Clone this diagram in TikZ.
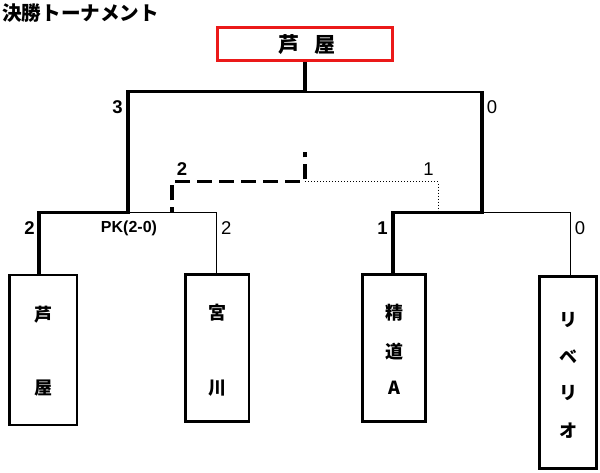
\documentclass[tikz,border=0pt]{standalone}
\usepackage{fontspec}
\newfontfamily\cjk{Noto Sans CJK JP}
\newfontfamily\latf{Liberation Sans}
\usetikzlibrary{calc}
\definecolor{champred}{RGB}{235,25,25}
\begin{document}
\begin{tikzpicture}[x=1pt,y=-1pt,
  boldline/.style={line width=3.2pt,line join=miter},
  thinline/.style={line width=1pt},
  midline/.style={line width=2pt},
  dashline/.style={line width=3.5pt,dash pattern=on 15pt off 7pt,dash phase=10pt},
  dotline/.style={line width=1pt,dash pattern=on 1pt off 2pt},
  teambox/.style={draw,line width=2.6pt,inner sep=0pt},
  champbox/.style={draw=champred,line width=3.2pt,inner sep=0pt,minimum width=175.6pt,minimum height=33.3pt,font=\cjk\bfseries\fontsize{21}{21}\selectfont},
  teamtxt/.style={font=\cjk\bfseries\fontsize{18}{18}\selectfont,inner sep=0pt},
  titletxt/.style={font=\cjk\bfseries\fontsize{19.6}{19.6}\selectfont,inner sep=0pt},
  winscore/.style={font=\latf\bfseries\fontsize{18.5}{18.5}\selectfont,inner sep=0pt,anchor=base},
  losescore/.style={font=\latf\fontsize{18.5}{18.5}\selectfont,inner sep=0pt,anchor=base},
  pktxt/.style={font=\latf\bfseries\fontsize{16}{16}\selectfont,inner sep=0pt,anchor=base}]
\useasboundingbox (0,0) rectangle (600,472);
\fill[white] (0,0) rectangle (600,472);

% title
\node[titletxt,anchor=base west] (title) at (2,20.5) {決勝トーナメント};

% champion box
\node[champbox] (champ) at (305,44.2) {\hspace*{4pt}芦\hspace{16pt}屋};

% team boxes
\node[teambox,minimum width=67.5pt,minimum height=150pt] (b1) at (43.2,349.8) {};
\node[teambox,minimum width=63.2pt,minimum height=147pt] (b2) at (217.2,348.2) {};
\node[teambox,minimum width=63.2pt,minimum height=146.7pt] (b3) at (393.9,348.1) {};
\node[teambox,minimum width=56.9pt,minimum height=192.5pt] (b4) at (568,372.5) {};

% team names
\foreach \c/\y [count=\i] in {芦/315,屋/388}
  \node[teamtxt] (b1t\i) at (43.2,\y) {\c};
\foreach \c/\y [count=\i] in {宮/313,川/388}
  \node[teamtxt] (b2t\i) at (217,\y) {\c};
\foreach \c/\y [count=\i] in {精/313,道/352,A/388}
  \node[teamtxt] (b3t\i) at (394.5,\y) {\c};
\foreach \c/\y [count=\i] in {リ/320,ベ/357,リ/393,オ/431}
  \node[teamtxt] (b4t\i) at (568.5,\y) {\c};

% junctions
\coordinate (fin) at (305,91.7);
\coordinate (sfL) at (128,212.3);
\coordinate (sfR) at (482,212.3);
\coordinate (pkL) at (172,212.3);
\coordinate (dc) at (305,181.7);
\coordinate (pkT) at (305,152);
\coordinate (dotc) at (438,212.3);

% bracket lines
\draw[midline] (fin) -- (fin -| sfR);
\draw[thinline] (sfL) -| ([xshift=-0.5pt]b2.north);
\draw[thinline] (sfR) -| ([xshift=2.7pt]b4.north);
\draw[boldline] ([xshift=-4.2pt]b1.north) |- (sfL) |- (fin) -- (champ.south);
\draw[boldline] ([xshift=-0.9pt]b3.north) |- (sfR) -- ([yshift=1pt]fin -| sfR);
\draw[dashline] (pkL) |- (dc) -- (pkT);
\draw[dotline] (dc) -| (dotc);

% scores
\node[winscore] (s3) at (117.5,113) {3};
\node[losescore] (s0a) at (492,113) {0};
\node[winscore] (sd2) at (182,175) {2};
\node[losescore] (sd1) at (428.5,175) {1};
\node[winscore] (sl2) at (29.5,234) {2};
\node[pktxt] (pk) at (129,232.5) {PK(2-0)};
\node[losescore] (sr2) at (226.2,234) {2};
\node[winscore] (s1) at (382.5,234) {1};
\node[losescore] (s0b) at (580,234) {0};
\end{tikzpicture}
\end{document}
